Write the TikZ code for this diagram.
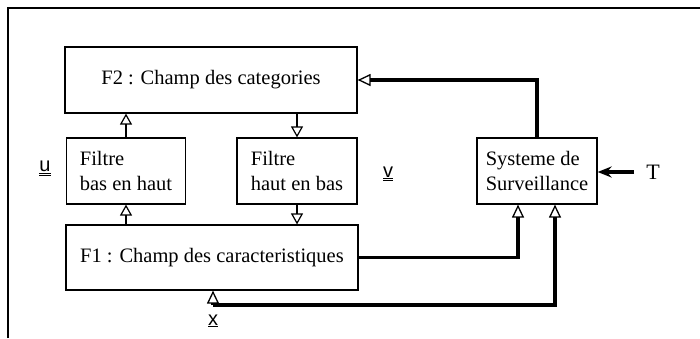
\documentclass[tikz,border=0pt]{standalone}
\usepackage{fontspec}
\setmainfont{Liberation Serif}
\setsansfont{Liberation Sans}
\usetikzlibrary{arrows.meta}

\begin{document}
\begin{tikzpicture}[x=1pt,y=-1pt,
    blok/.style={draw,line width=1.2pt,minimum height=66pt,inner sep=0pt,
        font=\fontsize{20.5}{25}\selectfont},
    petitblok/.style={blok,minimum width=120pt,align=left},
    lien/.style={line width=1.4pt,-{Triangle[open,length=11pt,width=12pt,line width=1.2pt]}},
    retour/.style={line width=3.4pt,-{Triangle[open,length=13pt,width=12pt,line width=1.3pt]}},
    signal/.style={font=\sffamily\fontsize{20}{22}\selectfont,inner sep=0pt}]
  \useasboundingbox (0,0) rectangle (700,338);
  \draw[line width=1.8pt] (8,338) -- (8,8) -- (700,8);

  \node[blok,minimum width=292pt] (F2) at (211,80) {F2 : Champ des categories};
  \node[petitblok,minimum width=119pt] (FB) at (126,171) {Filtre\\bas en haut};
  \node[petitblok] (FH) at (297,171) {Filtre\\haut en bas};
  \node[blok,minimum width=292pt,minimum height=65pt] (F1) at (212,257.5) {F1 : Champ des caracteristiques};
  \node[petitblok] (SS) at (537,171) {Systeme de\\Surveillance};

  \node[signal] (u) at (45,168) {\underline{\underline{u}}};
  \node[signal] (v) at (388,174) {\underline{\underline{v}}};
  \node[signal] (x) at (213,321) {\underline{x}};
  \node[font=\fontsize{22}{24}\selectfont,inner sep=0pt] (T) at (653,172) {T};
  \coordinate (xin) at (213,305);

  \draw[lien] (FB.north) -- (FB.north |- F2.south);
  \draw[lien] (F1.north -| FB) -- (FB.south);
  \draw[lien] (FH.north |- F2.south) -- (FH.north);
  \draw[lien] (FH.south) -- (FH.south |- F1.north);

  \draw[retour] (SS.north) |- (F2.east);
  \draw[retour] (F1.east) -| ([xshift=-19pt]SS.south);
  \draw[retour] (xin) -| ([xshift=18pt]SS.south);
  \draw[retour] (xin) -- (xin |- F1.south);
  \draw[line width=3.4pt,-{Stealth[length=14pt,width=11pt]}] ([xshift=-12pt]T.west) -- (T.west -| SS.east);
\end{tikzpicture}
\end{document}
